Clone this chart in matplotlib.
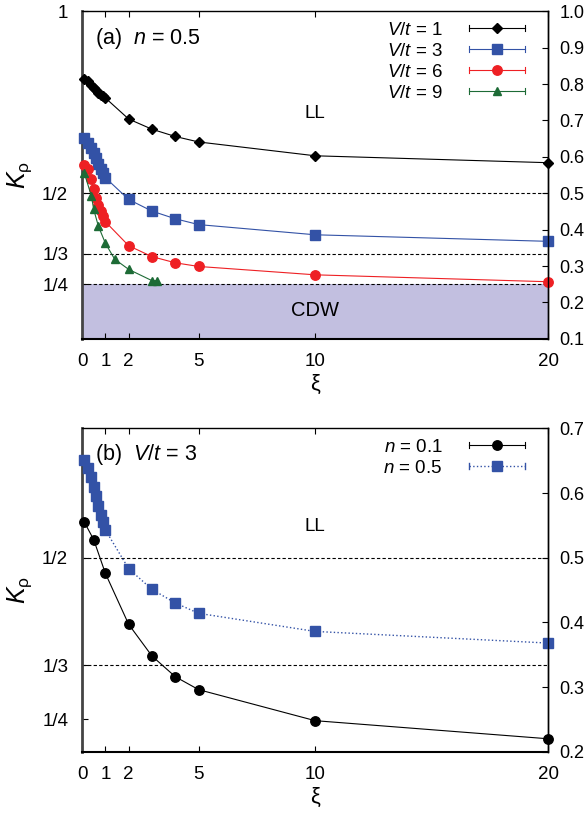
import matplotlib
matplotlib.use('Agg')
import matplotlib.pyplot as plt
from matplotlib.lines import Line2D
from matplotlib.legend_handler import HandlerLine2D
from matplotlib.ticker import FixedLocator, MultipleLocator, FormatStrFormatter

plt.rcParams['font.family'] = ['Liberation Sans', 'DejaVu Sans']
plt.rcParams['mathtext.fontset'] = 'custom'
plt.rcParams['mathtext.rm'] = 'Liberation Sans'
plt.rcParams['mathtext.it'] = 'Liberation Sans:italic'

# xi grid shared by V/t = 1, 3, 6 (and n = 0.5 in panel b)
XI = [0.1, 0.25, 0.4, 0.5, 0.6, 0.7, 0.8, 0.9, 1.0, 2, 3, 4, 5, 10, 20]
K_V1 = [0.815, 0.808, 0.798, 0.790, 0.783, 0.776, 0.770, 0.766, 0.762,
        0.704, 0.676, 0.656, 0.641, 0.603, 0.584]
K_V3 = [0.651, 0.639, 0.625, 0.610, 0.596, 0.580, 0.566, 0.555, 0.543,
        0.483, 0.451, 0.430, 0.414, 0.386, 0.368]
K_V6 = [0.578, 0.568, 0.540, 0.512, 0.488, 0.468, 0.452, 0.437, 0.422,
        0.356, 0.326, 0.309, 0.299, 0.276, 0.257]
XI_V9 = [0.1, 0.4, 0.5, 0.7, 1.0, 1.4, 2, 3, 3.2]
K_V9 = [0.555, 0.493, 0.456, 0.410, 0.363, 0.319, 0.291, 0.260, 0.260]

XI_N01 = [0.1, 0.5, 1, 2, 3, 4, 5, 10, 20]
K_N01 = [0.555, 0.528, 0.476, 0.397, 0.348, 0.316, 0.296, 0.248, 0.220]

X_TICKS = [0, 1, 2, 5, 10, 20]
LEFT_TICKS_A = [0.25, 1/3, 0.5, 1.0]
LEFT_LABELS_A = ['1/4', '1/3', '1/2', '1']
LEFT_TICKS_B = [0.25, 1/3, 0.5]
LEFT_LABELS_B = ['1/4', '1/3', '1/2']

BLUE = '#3352a6'
RED = '#ee2024'
GREEN = '#1d6b36'


class CapHandler(HandlerLine2D):
    # gnuplot-like key: line with small caps at both ends
    def create_artists(self, legend, orig, xdescent, ydescent, width, height, fontsize, trans):
        arts = super().create_artists(legend, orig, xdescent, ydescent, width, height, fontsize, trans)
        xs, _ = self.get_xdata(legend, xdescent, ydescent, width, height, fontsize)
        y = (height - ydescent) / 2
        for x in (xs[0], xs[-1]):
            cap = Line2D([x, x], [y - 2.2, y + 2.2], color=orig.get_color(), lw=orig.get_linewidth())
            cap.set_transform(trans)
            arts.append(cap)
        return arts


def style_axes(ax, ylim, lticks, llabels, rstep):
    ax.set_xlim(0, 20)
    ax.set_ylim(*ylim)
    ax.set_xticks(X_TICKS)
    ax.set_xticklabels([str(t) for t in X_TICKS])
    ax.yaxis.set_major_locator(FixedLocator(lticks))
    ax.set_yticklabels(llabels)
    ax.tick_params(axis='both', direction='in', length=4, width=0.8, labelsize=13.5)
    ax.tick_params(axis='x', top=True, pad=10)
    ax.tick_params(axis='y', pad=10)
    ax.spines['left'].set_linewidth(2.0)
    ax.spines['left'].set_color('#444444')
    ax.spines['bottom'].set_linewidth(1.5)
    ax.spines['top'].set_linewidth(1.0)
    ax.spines['right'].set_linewidth(1.0)
    ax.set_xlabel('ξ', fontsize=16, labelpad=3)
    ax.set_ylabel(r'$K_{\mathrm{\rho}}$', fontsize=18, labelpad=6)
    ax2 = ax.twinx()
    ax2.set_ylim(*ylim)
    ax2.yaxis.set_major_locator(MultipleLocator(rstep))
    ax2.yaxis.set_major_formatter(FormatStrFormatter('%.1f'))
    ax2.tick_params(axis='y', direction='in', length=4, width=0.8, labelsize=13, pad=8)
    for s in ('left', 'top', 'bottom'):
        ax2.spines[s].set_visible(False)
    ax2.spines['right'].set_linewidth(1.0)
    return ax2


def add_legend(ax, handles):
    ax.legend(handles=handles, loc='upper right', bbox_to_anchor=(0.95, 0.968),
              frameon=False, markerfirst=False, fontsize=13.5, handlelength=3.0,
              handletextpad=1.4, labelspacing=0.2, borderpad=0, borderaxespad=0,
              handler_map={Line2D: CapHandler()})


fig = plt.figure(figsize=(5.85, 8.17), dpi=100)
ax_a = fig.add_axes([0.1402, 0.5852, 0.7971, 0.4010])
ax_b = fig.add_axes([0.1402, 0.0799, 0.7971, 0.3958])

# ---- panel (a) ----
ax_a.axhspan(0.1, 0.25, color='#c2bfe0', lw=0, zorder=0)
for v in (0.5, 1/3, 0.25):
    ax_a.axhline(v, ls=(0, (3, 2)), lw=0.8, color='k', zorder=1)
la = []
la += ax_a.plot(XI, K_V1, '-', color='black', marker='D', ms=4.8, lw=0.8,
                label='$V/t$ = 1', clip_on=False, zorder=3)
la += ax_a.plot(XI, K_V3, '-', color=BLUE, marker='s', ms=6.6, lw=0.8,
                label='$V/t$ = 3', clip_on=False, zorder=3)
la += ax_a.plot(XI, K_V6, '-', color=RED, marker='o', ms=6.8, lw=0.8,
                label='$V/t$ = 6', clip_on=False, zorder=3)
la += ax_a.plot(XI_V9, K_V9, '-', color=GREEN, marker='^', ms=5.6, lw=0.8,
                label='$V/t$ = 9', clip_on=False, zorder=3)
style_axes(ax_a, (0.1, 1.0), LEFT_TICKS_A, LEFT_LABELS_A, 0.1)
ax_a.text(0.028, 0.918, '(a)  $n$ = 0.5', transform=ax_a.transAxes,
          fontsize=15.5, ha='left', va='center')
ax_a.text(10, 0.72, 'LL', fontsize=13.5, ha='center', va='center')
ax_a.text(10, 0.177, 'CDW', fontsize=14.5, ha='center', va='center')
add_legend(ax_a, la)

# ---- panel (b) ----
for v in (0.5, 1/3):
    ax_b.axhline(v, ls=(0, (3, 2)), lw=0.8, color='k', zorder=1)
lb = []
lb += ax_b.plot(XI_N01, K_N01, '-', color='black', marker='o', ms=6.8, lw=0.8,
                label='$n$ = 0.1', clip_on=False, zorder=3)
lb += ax_b.plot(XI, K_V3, ':', color=BLUE, marker='s', ms=6.6, lw=1.0,
                label='$n$ = 0.5', clip_on=False, zorder=3)
style_axes(ax_b, (0.2, 0.7), LEFT_TICKS_B, LEFT_LABELS_B, 0.1)
ax_b.text(0.028, 0.918, '(b)  $V/t$ = 3', transform=ax_b.transAxes,
          fontsize=15.5, ha='left', va='center')
ax_b.text(10, 0.549, 'LL', fontsize=13.5, ha='center', va='center')
add_legend(ax_b, lb)

fig.savefig('out.png', dpi=100)
